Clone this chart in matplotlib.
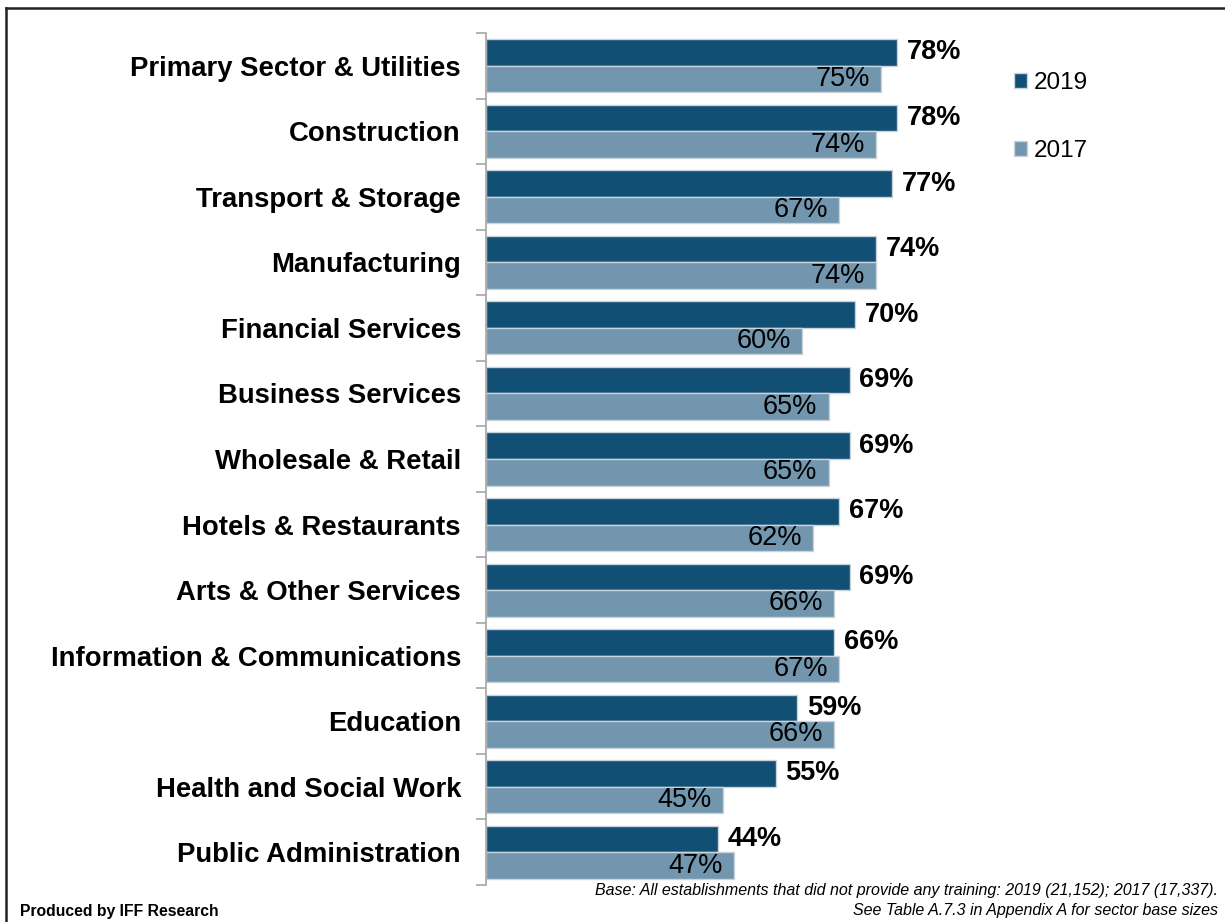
import numpy as np
import matplotlib.pyplot as plt

plt.rcParams['font.family'] = ['Liberation Sans', 'DejaVu Sans']

sectors = [
    "Primary Sector & Utilities",
    "Construction",
    "Transport & Storage",
    "Manufacturing",
    "Financial Services",
    "Business Services",
    "Wholesale & Retail",
    "Hotels & Restaurants",
    "Arts & Other Services",
    "Information & Communications",
    "Education",
    "Health and Social Work",
    "Public Administration",
]
pct_2019 = [78, 78, 77, 74, 70, 69, 69, 67, 69, 66, 59, 55, 44]
pct_2017 = [75, 74, 67, 74, 60, 65, 65, 62, 66, 67, 66, 45, 47]

dark = "#124f74"
light = "#7196ae"
edge = "#c9d3dc"

fig = plt.figure(figsize=(12.25, 9.22), dpi=100)
ax = fig.add_axes([486 / 1225, 1 - 885 / 922, (1013 - 486) / 1225, (885 - 33) / 922])

y = np.arange(len(sectors))
h = 0.405
b19 = ax.barh(y - h / 2, pct_2019, height=h, color=dark, edgecolor=edge, linewidth=1, label="2019")
b17 = ax.barh(y + h / 2, pct_2017, height=h, color=light, edgecolor=edge, linewidth=1, label="2017")

for yi, v in zip(y, pct_2019):
    ax.annotate(f"{v}%", (v, yi - h / 2), xytext=(7, 0), textcoords="offset points",
                ha="left", va="center", fontsize=19.5, fontweight="bold", color="black")
for yi, v in zip(y, pct_2017):
    ax.annotate(f"{v}%", (v, yi + h / 2), xytext=(-8, 0), textcoords="offset points",
                ha="right", va="center", fontsize=19.5, color="black")

ax.set_xlim(0, 100)
ax.set_ylim(len(sectors) - 0.5, -0.5)
ax.set_yticks(y)
ax.set_yticklabels(sectors, fontsize=19.8, fontweight="bold")
ax.tick_params(axis="y", which="major", length=0, pad=18)
ax.set_yticks(np.arange(-0.5, len(sectors)), minor=True)
ax.tick_params(axis="y", which="minor", length=7, color="#a6a6a6", width=1.2)
ax.set_xticks([])
for s in ["top", "right", "bottom"]:
    ax.spines[s].set_visible(False)
ax.spines["left"].set_color("#a6a6a6")
ax.spines["left"].set_linewidth(1.2)

leg = fig.legend(handles=[b19, b17], loc="upper left", bbox_to_anchor=(992 / 1225, 1 - 50 / 922),
                 frameon=False, fontsize=17.5, handlelength=0.55, handleheight=0.55,
                 handletextpad=0.25, labelspacing=1.9)

fig.text(20 / 1225, 1 - 911 / 922, "Produced by IFF Research", fontsize=11.3,
         fontweight="bold", ha="left", va="center")
fig.text(1218 / 1225, 1 - 890 / 922,
         "Base: All establishments that did not provide any training: 2019 (21,152); 2017 (17,337).",
         fontsize=11.5, style="italic", ha="right", va="center")
fig.text(1218 / 1225, 1 - 910 / 922, "See Table A.7.3 in Appendix A for sector base sizes",
         fontsize=11.5, style="italic", ha="right", va="center")

# outer frame: left and top edges only
fig.add_artist(plt.Line2D([6 / 1225, 6 / 1225], [0, 1 - 8 / 922], transform=fig.transFigure,
                          color="#222222", linewidth=1.8))
fig.add_artist(plt.Line2D([6 / 1225, 1], [1 - 8 / 922, 1 - 8 / 922], transform=fig.transFigure,
                          color="#222222", linewidth=1.8))

fig.savefig("out.png", dpi=100)
